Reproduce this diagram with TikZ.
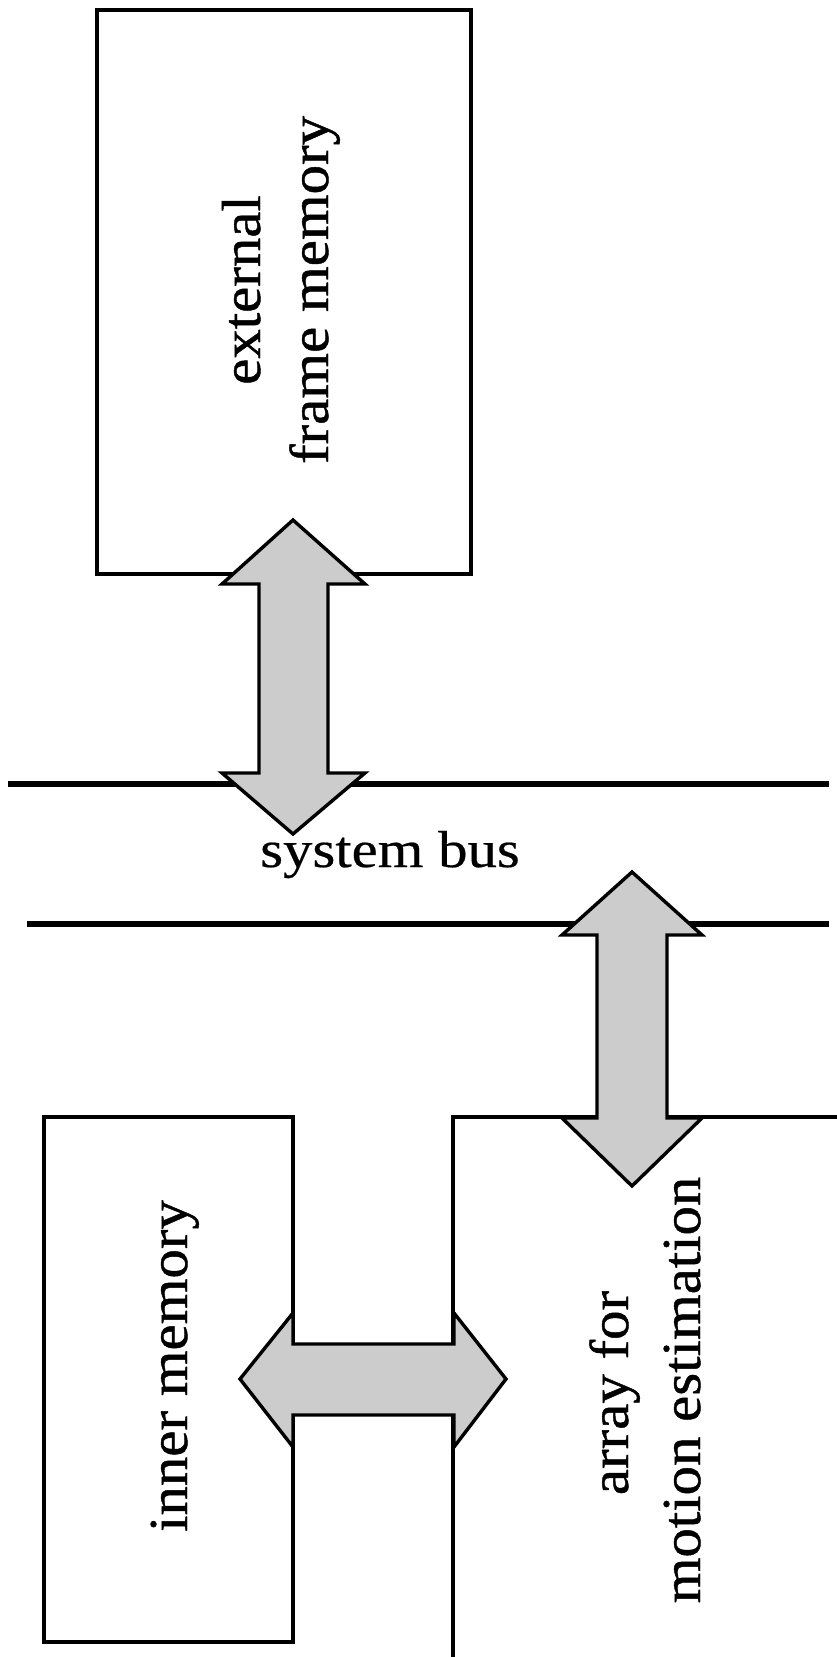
\documentclass[tikz,border=0pt]{standalone}
\usepackage{fontspec}
\usepackage{graphicx}
\setmainfont[FakeBold=0.8]{Liberation Serif}
\newfontfamily\busfont[FakeBold=0.4]{Liberation Serif}
\newcommand{\wide}[1]{\scalebox{1.13}[1]{#1}}
\newcommand{\widebox}[1]{\scalebox{1.07}[1]{#1}}
\begin{document}
\begin{tikzpicture}[x=1pt,y=-1pt,
  box/.style={draw=black, line width=3.2pt, fill=white, rectangle, outer sep=0pt, inner sep=0pt, anchor=north west},
  lbl/.style={font=\fontsize{52}{72}\selectfont, inner sep=0pt, anchor=base},
  vlbl/.style={font=\fontsize{55}{72}\selectfont, inner sep=0pt, anchor=base, rotate=90},
  blockarrow/.style={draw=black, line width=3.4pt, fill=black!20, line join=miter},
  busline/.style={draw=black, line width=6pt}]
\useasboundingbox (0,0) rectangle (837,1657);
\clip (0,0) rectangle (837,1657);

% boxes
\node[box, minimum width=374pt, minimum height=564pt] (ext) at (97,10) {};
\node[box, minimum width=249pt, minimum height=525pt] (inner) at (44,1117) {};
\node[box, minimum width=420pt, minimum height=580pt] (array) at (453,1117) {};

% box labels
\node[vlbl] (extA) at (260,290) {\widebox{external}};
\node[vlbl] (extB) at (328,290) {\widebox{frame memory}};
\node[vlbl] (innerL) at (187,1366) {\widebox{inner memory}};
\node[vlbl] (arrA) at (628,1393) {\widebox{array for}};
\node[vlbl] (arrB) at (700,1390) {\widebox{motion estimation}};

% system bus
\coordinate (busAw) at (8,784);
\coordinate (busAe) at (829,784);
\coordinate (busBw) at (27,924);
\coordinate (busBe) at (829,924);
\draw[busline] (busAw) -- (busAe);
\draw[busline] (busBw) -- (busBe);
\node[lbl, font=\busfont\fontsize{52}{72}\selectfont] (bus) at (390,867) {\wide{system bus}};

% block arrows (tips)
\coordinate (t1) at (293,520);
\coordinate (t2) at (632,872);
\coordinate (t3) at (240,1379);

\draw[blockarrow] (t1) -- ++(72,64) -- ++(-37,0) -- ++(0,189) -- ++(37,0)
  -- ++(-72,61) -- ++(-71,-61) -- ++(37,0) -- ++(0,-189) -- ++(-37,0) -- cycle;
\draw[blockarrow] (t2) -- ++(70,63) -- ++(-35,0) -- ++(0,183) -- ++(35,0)
  -- ++(-70,68) -- ++(-70,-68) -- ++(35,0) -- ++(0,-183) -- ++(-35,0) -- cycle;
\draw[blockarrow] (t3) -- ++(53,-66) -- ++(0,31) -- ++(161,0) -- ++(0,-31)
  -- ++(52,66) -- ++(-52,68) -- ++(0,-32) -- ++(-161,0) -- ++(0,32) -- cycle;
\end{tikzpicture}
\end{document}
